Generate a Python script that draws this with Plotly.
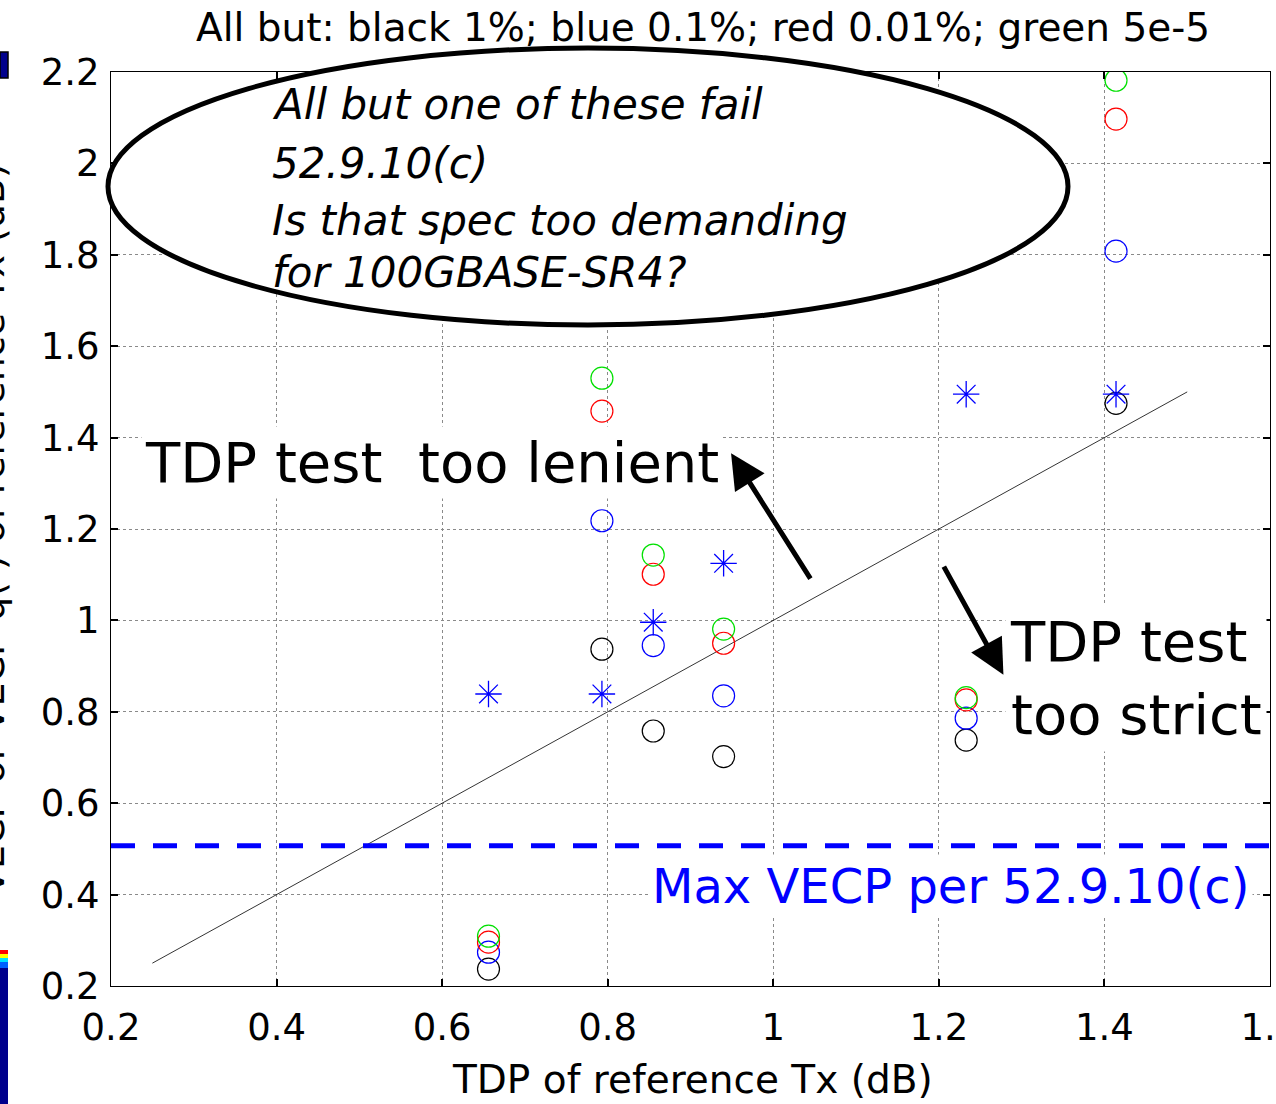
import plotly.graph_objects as go

# ---------------- data ----------------
tdp_x = [0.656, 0.793, 0.855, 0.940, 1.233, 1.414]
vecp_black = [0.237, 0.937, 0.758, 0.702, 0.738, 1.475]
vecp_blue = [0.274, 1.218, 0.945, 0.835, 0.786, 1.808]
vecp_red = [0.296, 1.458, 1.101, 0.950, 0.826, 2.097]
vecp_green = [0.309, 1.530, 1.143, 0.981, 0.831, 2.182]
tdp_star = [0.839, 0.839, 0.996, 1.125, 1.495, 1.495]

diag_x = [0.25, 1.5]
diag_y = [0.25, 1.5]
limit_x = [0.2, 1.6]
vecp_limit = 0.507

x_ticks = [0.2, 0.4, 0.6, 0.8, 1.0, 1.2, 1.4, 1.6]
x_tick_text = ["0.2", "0.4", "0.6", "0.8", "1", "1.2", "1.4", "1.6"]
y_ticks = [0.2, 0.4, 0.6, 0.8, 1.0, 1.2, 1.4, 1.6, 1.8, 2.0, 2.2]
y_tick_text = ["0.2", "0.4", "0.6", "0.8", "1", "1.2", "1.4", "1.6", "1.8", "2", "2.2"]

title_text = "All but: black 1%; blue 0.1%; red 0.01%; green 5e-5"
x_title = "TDP of reference Tx (dB)"
y_title = "VECP or VECP q( ) of reference Tx (dB)"
bubble_lines = ["All but one of these fail", "52.9.10(c)",
                "Is that spec too demanding", "for 100GBASE-SR4?"]

# ---------------- layout geometry ----------------
W, H = 1276, 1104
L, R, T, B = 111, 6, 72, 118
PW, PH = W - L - R, H - T - B
FONT = "DejaVu Sans"


def px_x(p):
    return (p - L) / PW


def px_y(p):
    return (H - B - p) / PH


fig = go.Figure()

fig.add_trace(go.Scatter(x=diag_x, y=diag_y, mode="lines",
                         line=dict(color="black", width=0.8), hoverinfo="skip"))
fig.add_trace(go.Scatter(x=limit_x, y=[vecp_limit] * len(limit_x), mode="lines",
                         line=dict(color="#0000ff", width=5, dash="24px,18px"),
                         hoverinfo="skip"))

for vals, col in [(vecp_black, "#000000"), (vecp_blue, "#0000ff"),
                  (vecp_red, "#ff0000"), (vecp_green, "#00e000")]:
    fig.add_trace(go.Scatter(x=tdp_x, y=vals, mode="markers",
                             marker=dict(symbol="circle-open", size=22,
                                         color=col, line=dict(width=1.2, color=col))))

fig.add_trace(go.Scatter(x=tdp_x, y=tdp_star, mode="markers",
                         marker=dict(symbol="asterisk-open", size=22, color="#0000ff",
                                     line=dict(width=1.3, color="#0000ff"))))

axis_common = dict(showline=True, linecolor="black", linewidth=1, mirror="ticks",
                   ticks="inside", ticklen=7, tickwidth=1.5, tickcolor="black",
                   showgrid=True, gridcolor="#8a8a8a", gridwidth=1, griddash="dot",
                   zeroline=False, automargin=False,
                   tickfont=dict(family=FONT, size=37, color="black"))

fig.update_xaxes(range=[0.2, 1.6], tickvals=x_ticks, ticktext=x_tick_text,
                 ticklabeloverflow="allow", ticklabelstandoff=9, **axis_common)
fig.update_yaxes(range=[0.2, 2.2], tickvals=y_ticks, ticktext=y_tick_text,
                 ticklabelstandoff=3, **axis_common)

shapes = [
    # speech bubble ellipse
    dict(type="circle", xref="paper", yref="paper",
         x0=px_x(108), x1=px_x(1068), y0=px_y(325), y1=px_y(48),
         line=dict(color="black", width=5), fillcolor="white", layer="above"),
    # fragments of a neighbouring colorbar at the left edge
    dict(type="rect", xref="paper", yref="paper",
         x0=px_x(0), x1=px_x(8), y0=px_y(1104), y1=px_y(968),
         line=dict(width=0), fillcolor="#00008c", layer="above"),
    dict(type="rect", xref="paper", yref="paper",
         x0=px_x(0), x1=px_x(8), y0=px_y(968), y1=px_y(962),
         line=dict(width=0), fillcolor="#0060ff", layer="above"),
    dict(type="rect", xref="paper", yref="paper",
         x0=px_x(0), x1=px_x(8), y0=px_y(962), y1=px_y(958),
         line=dict(width=0), fillcolor="#00e0ff", layer="above"),
    dict(type="rect", xref="paper", yref="paper",
         x0=px_x(0), x1=px_x(8), y0=px_y(958), y1=px_y(954),
         line=dict(width=0), fillcolor="#ffff00", layer="above"),
    dict(type="rect", xref="paper", yref="paper",
         x0=px_x(0), x1=px_x(8), y0=px_y(954), y1=px_y(950),
         line=dict(width=0), fillcolor="#ff0000", layer="above"),
    dict(type="rect", xref="paper", yref="paper",
         x0=px_x(0), x1=px_x(8), y0=px_y(78), y1=px_y(52),
         line=dict(color="black", width=1.5), fillcolor="#00008c", layer="above"),
]

annotations = [
    dict(text=title_text, xref="paper", yref="paper", x=px_x(703), y=px_y(27),
         xanchor="center", yanchor="middle", showarrow=False,
         font=dict(family=FONT, size=39, color="black")),
    dict(text=x_title, xref="paper", yref="paper", x=px_x(692), y=px_y(1079),
         xanchor="center", yanchor="middle", showarrow=False,
         font=dict(family=FONT, size=39, color="black")),
    dict(text=y_title, xref="paper", yref="paper", x=px_x(-9), y=0.5,
         xanchor="center", yanchor="middle", textangle=-90, showarrow=False,
         font=dict(family=FONT, size=38, color="black")),
    dict(text="TDP test\u00a0 too lenient", xref="paper", yref="paper",
         x=px_x(141), y=px_y(462), xanchor="left", yanchor="middle", showarrow=False,
         bgcolor="white", borderpad=3,
         font=dict(family=FONT, size=56, color="black")),
    dict(text="TDP test<br>too strict", xref="paper", yref="paper",
         x=px_x(1005), y=px_y(678), xanchor="left", yanchor="middle", showarrow=False,
         align="left", bgcolor="white", borderpad=4,
         font=dict(family=FONT, size=56, color="black")),
    dict(text="Max VECP per 52.9.10(c)", xref="paper", yref="paper",
         x=px_x(648), y=px_y(886), xanchor="left", yanchor="middle", showarrow=False,
         bgcolor="white", borderpad=3,
         font=dict(family=FONT, size=48, color="#0000ff")),
    # arrows
    dict(text="", x=0.949, y=1.366, ax=1.046, ay=1.088, xref="x", yref="y",
         axref="x", ayref="y", showarrow=True, arrowhead=2, arrowsize=1.4,
         arrowwidth=5, arrowcolor="black"),
    dict(text="", x=1.278, y=0.881, ax=1.205, ay=1.121, xref="x", yref="y",
         axref="x", ayref="y", showarrow=True, arrowhead=2, arrowsize=1.4,
         arrowwidth=5, arrowcolor="black"),
]

bubble_y = [104, 163, 221, 272]
for line_text, yc in zip(bubble_lines, bubble_y):
    annotations.append(dict(text="<i>" + line_text + "</i>", xref="paper", yref="paper",
                            x=px_x(270), y=px_y(yc), xanchor="left", yanchor="middle",
                            showarrow=False,
                            font=dict(family=FONT, size=42, color="black")))

fig.update_layout(width=W, height=H, margin=dict(l=L, r=R, t=T, b=B, pad=0),
                  paper_bgcolor="white", plot_bgcolor="white", showlegend=False,
                  shapes=shapes, annotations=annotations,
                  font=dict(family=FONT, color="black"))

fig.write_html("out.html",
               config={"displayModeBar": False},
               post_script="document.body.style.margin='0';"
                           "document.body.style.overflow='hidden';")
